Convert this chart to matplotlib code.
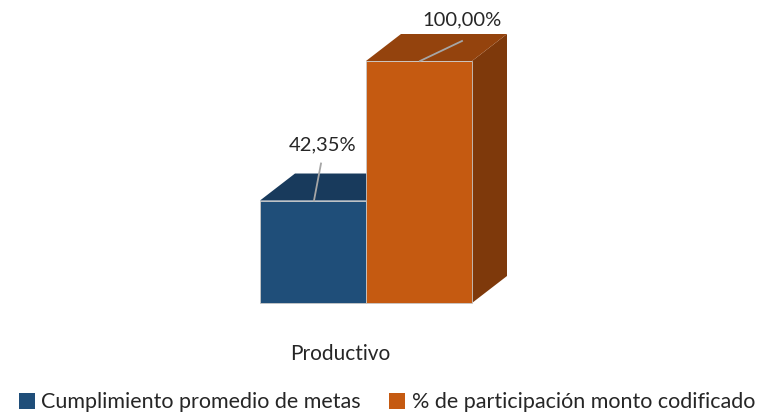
import matplotlib
matplotlib.use("Agg")
import matplotlib.pyplot as plt
from matplotlib.patches import Polygon, Patch

categories = ["Productivo"]
series_names = ["Cumplimiento promedio de metas", "% de participación monto codificado"]
values = [42.35, 100.00]
labels = ["42,35%", "100,00%"]

front_colors = ["#1F4E79", "#C55A11"]
top_colors = ["#183A5C", "#94430D"]
side_colors = ["#143150", "#7E390B"]

W, H = 766, 417
fig = plt.figure(figsize=(W / 100, H / 100), dpi=100)
y0_px, y100_px = 303, 61
ax = fig.add_axes([0, (H - y0_px) / H, 1, (y0_px - y100_px) / H])
px_per_unit = 106.0
center_px = 366
ax.set_xlim(-center_px / px_per_unit, (W - center_px) / px_per_unit)
ax.set_ylim(0, 100)
ax.axis("off")

dx = 35 / px_per_unit
dy = 27 / ((y0_px - y100_px) / 100)

FONT = "Lato"
TXT = "#262626"
for i, (v, fc, tc, sc) in enumerate(zip(values, front_colors, top_colors, side_colors)):
    x0 = -1 + i
    x1 = x0 + 1
    side = Polygon([(x1, 0), (x1 + dx, dy), (x1 + dx, v + dy), (x1, v)], closed=True,
                   facecolor=sc, edgecolor="none", clip_on=False, zorder=2 + 3 * i)
    top = Polygon([(x0, v), (x0 + dx, v + dy), (x1 + dx, v + dy), (x1, v)], closed=True,
                  facecolor=tc, edgecolor="none", clip_on=False, zorder=2 + 3 * i)
    front = Polygon([(x0, 0), (x0, v), (x1, v), (x1, 0)], closed=True,
                    facecolor=fc, edgecolor="#c8c8c8", linewidth=0.6, clip_on=False, zorder=3 + 3 * i)
    ax.add_patch(side)
    ax.add_patch(top)
    ax.add_patch(front)

upp = 100 / (y0_px - y100_px)
# blue label
bx_anchor = -1 + (314 - 260) / px_per_unit
ax.plot([bx_anchor, bx_anchor + 7 / px_per_unit], [values[0], values[0] + 37 * upp],
        color="#a6a6a6", lw=1.3, zorder=10, clip_on=False)
ax.text(bx_anchor + 9 / px_per_unit, values[0] + 56 * upp, labels[0], ha="center", va="center",
        fontsize=14.5, family=FONT, color=TXT, zorder=11, clip_on=False)
# orange label
ox_anchor = 0 + (420 - 366) / px_per_unit
ax.plot([ox_anchor, ox_anchor + 42 / px_per_unit], [values[1], values[1] + 20 * upp],
        color="#a6a6a6", lw=1.3, zorder=10, clip_on=False)
ax.text(ox_anchor + 42 / px_per_unit, values[1] + 41 * upp, labels[1], ha="center", va="center",
        fontsize=14.5, family=FONT, color=TXT, zorder=11, clip_on=False)

# category label
ax.text((340 - center_px) / px_per_unit, -51 * upp, categories[0], ha="center", va="center",
        fontsize=15, family=FONT, color=TXT, clip_on=False)

handles = [Patch(facecolor=c, edgecolor="none") for c in front_colors]
leg = fig.legend(handles, series_names, loc="lower center", bbox_to_anchor=(0.505, -0.035),
                 ncol=2, frameon=False, handlelength=0.75, handleheight=0.8, handletextpad=0.3,
                 columnspacing=1.3, prop={"family": FONT, "size": 15.5})
for t in leg.get_texts():
    t.set_color(TXT)

fig.savefig("out.png", dpi=100)
